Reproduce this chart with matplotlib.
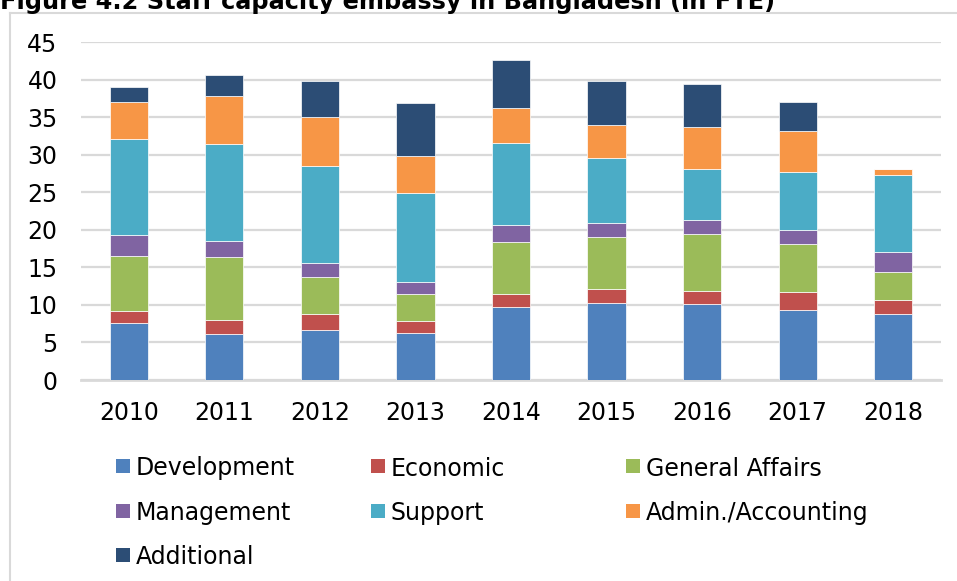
import matplotlib
matplotlib.use("Agg")
import matplotlib.pyplot as plt
from matplotlib.patches import Rectangle
from matplotlib.lines import Line2D
import numpy as np

years = ['2010', '2011', '2012', '2013', '2014', '2015', '2016', '2017', '2018']
development = [7.56, 6.18, 6.62, 6.31, 9.73, 10.22, 10.18, 9.29, 8.76]
economic = [1.68, 1.78, 2.14, 1.60, 1.78, 1.96, 1.73, 2.49, 1.91]
general_affairs = [7.29, 8.44, 4.97, 3.56, 6.85, 6.89, 7.56, 6.26, 3.69]
management = [2.76, 2.04, 1.83, 1.55, 2.26, 1.86, 1.86, 1.87, 2.66]
support = [12.84, 13.03, 12.88, 11.91, 10.89, 8.58, 6.76, 7.73, 10.31]
admin_accounting = [4.94, 6.40, 6.58, 4.89, 4.71, 4.45, 5.64, 5.52, 0.80]
additional = [1.93, 2.71, 4.80, 7.07, 6.40, 5.86, 5.69, 3.86, 0.0]

series_names = ['Development', 'Economic', 'General Affairs', 'Management',
                'Support', 'Admin./Accounting', 'Additional']
series_values = [development, economic, general_affairs, management,
                 support, admin_accounting, additional]
colors = ['#4F81BD', '#C0504D', '#9BBB59', '#8064A2', '#4BACC6', '#F79646', '#2C4D75']
title = 'Figure 4.2 Staff capacity embassy in Bangladesh (in FTE)'

W, H = 957, 581
fig = plt.figure(figsize=(W / 100, H / 100), dpi=100)
plt.rcParams['font.family'] = ['DejaVu Sans']

def fx(px):
    return px / W

def fy(py):
    return 1 - py / H

# outer border (top and left visible)
fig.add_artist(Line2D([fx(10), fx(10)], [fy(13), 0], transform=fig.transFigure,
                      color='#D9D9D9', lw=1.5))
fig.add_artist(Line2D([fx(10), 1], [fy(13), fy(13)], transform=fig.transFigure,
                      color='#D9D9D9', lw=1.5))

fig.text(0.0, fy(9), title, fontsize=17.3, fontweight='bold', ha='left',
         va='baseline', color='black')

left, right, top, bottom = 81, 941, 42, 380
ax = fig.add_axes([fx(left), fy(bottom), fx(right - left), (bottom - top) / H])

x = np.arange(len(years))
base = np.zeros(len(years))
for name, vals, c in zip(series_names, series_values, colors):
    v = np.array(vals)
    ax.bar(x, v, width=0.4, bottom=base, color=c, edgecolor='#FFFFFF',
           linewidth=0.5, label=name, zorder=3)
    base += v

ax.set_xlim(-0.5, len(years) - 0.5)
ax.set_ylim(0, 45)
ax.set_yticks(np.arange(0, 46, 5))
ax.set_xticks(x)
ax.set_xticklabels(years)
ax.grid(axis='y', color='#D9D9D9', lw=1.6, zorder=0)
ax.set_axisbelow(True)
for s in ['top', 'right', 'left']:
    ax.spines[s].set_visible(False)
ax.spines['bottom'].set_color('#D9D9D9')
ax.spines['bottom'].set_linewidth(2)
ax.tick_params(axis='both', length=0, labelsize=17, colors='black')
ax.tick_params(axis='y', pad=17)
ax.tick_params(axis='x', pad=15)

# legend (manual, 3 columns)
col_x = [116, 371, 626]
row_y = [466, 510.5, 555]
for i, (name, c) in enumerate(zip(series_names, colors)):
    r, cidx = divmod(i, 3)
    mx, my = col_x[cidx], row_y[r]
    fig.add_artist(Rectangle((fx(mx), fy(my + 7)), 14 / W, 14 / H,
                             transform=fig.transFigure, facecolor=c, edgecolor='none'))
    fig.text(fx(mx + 20), fy(my), name, fontsize=17, ha='left', va='center_baseline',
             color='black')

fig.savefig('out.png', dpi=100)
